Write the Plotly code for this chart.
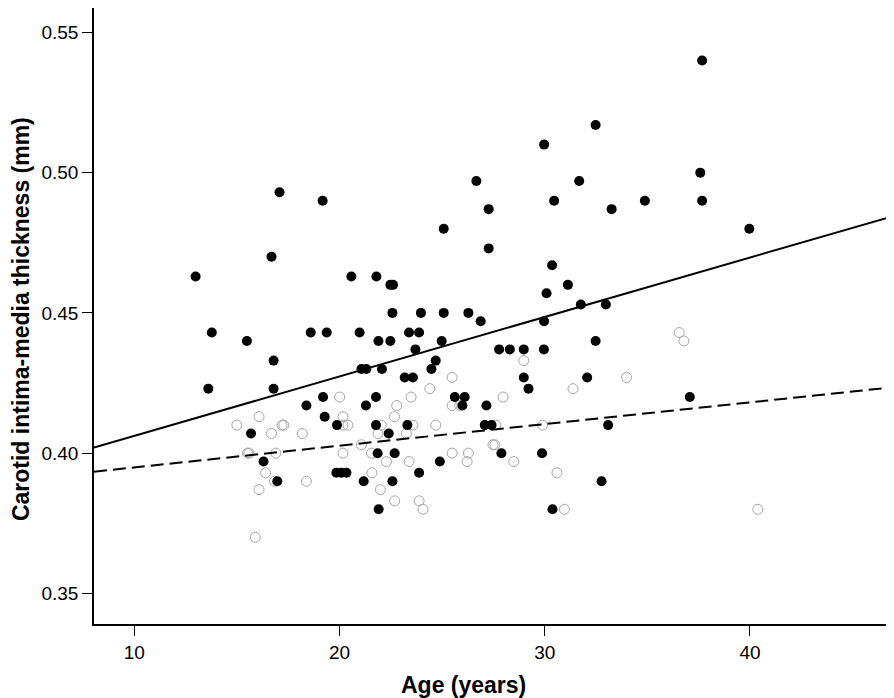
import plotly.graph_objects as go

# Filled circles (group 1)
age_filled = [17.08, 19.18, 16.69, 12.99, 20.58, 21.80, 13.78, 15.49, 18.60, 19.38,
              20.98, 16.79, 13.61, 16.79, 21.07, 21.31, 19.20, 18.39, 21.78, 21.29,
              19.28, 19.88, 21.78, 15.69, 21.86, 16.30, 19.85, 20.09, 20.34, 16.97,
              21.18, 21.91, 26.67, 27.27, 30.46, 25.08, 27.27, 30.36, 22.48, 22.61,
              31.13, 30.09, 22.58, 23.97, 25.08, 26.28, 26.88, 29.97, 21.90, 22.48,
              23.39, 23.88, 24.98, 23.70, 27.78, 28.30, 28.98, 29.96, 24.69, 24.48,
              22.07, 23.18, 23.58, 28.98, 29.21, 25.62, 26.10, 25.99, 27.16, 23.31,
              22.40, 27.08, 27.41, 22.69, 27.89, 29.87, 24.89, 23.88, 22.58, 30.38,
              37.67, 32.48, 31.68, 33.26, 34.88, 37.58, 37.67, 39.97, 29.97, 31.76,
              32.98, 32.48, 32.07, 37.07, 33.09, 32.77]
cimt_filled = [0.493, 0.490, 0.470, 0.463, 0.463, 0.463, 0.443, 0.440, 0.443, 0.443,
               0.443, 0.433, 0.423, 0.423, 0.430, 0.430, 0.420, 0.417, 0.420, 0.417,
               0.413, 0.410, 0.410, 0.407, 0.400, 0.397, 0.393, 0.393, 0.393, 0.390,
               0.390, 0.380, 0.497, 0.487, 0.490, 0.480, 0.473, 0.467, 0.460, 0.460,
               0.460, 0.457, 0.450, 0.450, 0.450, 0.450, 0.447, 0.447, 0.440, 0.440,
               0.443, 0.443, 0.440, 0.437, 0.437, 0.437, 0.437, 0.437, 0.433, 0.430,
               0.430, 0.427, 0.427, 0.427, 0.423, 0.420, 0.420, 0.417, 0.417, 0.410,
               0.407, 0.410, 0.410, 0.400, 0.400, 0.400, 0.397, 0.393, 0.390, 0.380,
               0.540, 0.517, 0.497, 0.487, 0.490, 0.500, 0.490, 0.480, 0.510, 0.453,
               0.453, 0.440, 0.427, 0.420, 0.410, 0.390]

# Open circles (group 2)
age_open = [20.01, 16.08, 15.00, 17.20, 17.29, 20.17, 20.17, 20.41, 16.69, 18.19,
            15.52, 15.59, 16.90, 20.17, 21.07, 21.56, 16.40, 16.84, 18.39, 21.58,
            16.08, 15.90, 28.98, 25.49, 24.40, 23.49, 22.79, 22.68, 25.49, 25.86,
            27.97, 22.04, 23.58, 24.69, 21.88, 23.26, 27.62, 29.89, 27.48, 27.57,
            25.49, 26.28, 22.29, 23.39, 26.22, 28.49, 30.60, 21.99, 22.69, 23.88,
            24.07, 30.96, 36.55, 36.78, 33.99, 31.38, 40.38]
cimt_open = [0.420, 0.413, 0.410, 0.410, 0.410, 0.413, 0.410, 0.410, 0.407, 0.407,
             0.400, 0.400, 0.400, 0.400, 0.403, 0.400, 0.393, 0.390, 0.390, 0.393,
             0.387, 0.370, 0.433, 0.427, 0.423, 0.420, 0.417, 0.413, 0.417, 0.417,
             0.420, 0.410, 0.410, 0.410, 0.407, 0.407, 0.410, 0.410, 0.403, 0.403,
             0.400, 0.400, 0.397, 0.397, 0.397, 0.397, 0.393, 0.387, 0.383, 0.383,
             0.380, 0.380, 0.443, 0.440, 0.427, 0.423, 0.380]

# Fit lines (end points at axis limits)
fit_age = [8.04, 46.97]
fit_solid = [0.4020, 0.4845]
fit_dashed = [0.3934, 0.4235]

x_ticks = [10, 20, 30, 40]
y_ticks = [0.35, 0.40, 0.45, 0.50, 0.55]
x_range = [8.04, 46.97]
y_range = [0.3391, 0.5587]

SANS = "Liberation Sans, Arial, Helvetica, sans-serif"

fig = go.Figure()
fig.add_trace(go.Scatter(x=age_open, y=cimt_open, mode="markers",
                         marker=dict(symbol="circle-open", size=10, color="#a6a6a6",
                                     line=dict(width=1, color="#a6a6a6")),
                         showlegend=False, hoverinfo="skip"))
fig.add_trace(go.Scatter(x=age_filled, y=cimt_filled, mode="markers",
                         marker=dict(symbol="circle", size=10, color="black",
                                     line=dict(width=0)),
                         showlegend=False, hoverinfo="skip"))
fig.add_trace(go.Scatter(x=fit_age, y=fit_solid, mode="lines",
                         line=dict(color="black", width=2),
                         showlegend=False, hoverinfo="skip"))
fig.add_trace(go.Scatter(x=fit_age, y=fit_dashed, mode="lines",
                         line=dict(color="black", width=2, dash="13px,6px"),
                         showlegend=False, hoverinfo="skip"))

axis_common = dict(showline=True, linecolor="black", linewidth=1.5, ticks="outside",
                   ticklen=10, tickwidth=1.2, tickcolor="black", showgrid=False,
                   zeroline=False, mirror=False)

# The page body has an 8px default margin, so the figure is 8px smaller.
fig.update_layout(
    width=886, height=690,
    margin=dict(l=86, r=1, t=0, b=74),
    paper_bgcolor="white", plot_bgcolor="white",
    font=dict(family=SANS, color="black"),
    xaxis=dict(range=x_range, tickvals=x_ticks,
               tickfont=dict(size=19, family=SANS), **axis_common),
    yaxis=dict(range=y_range, tickvals=y_ticks, tickformat=".2f",
               tickfont=dict(size=19, family=SANS), **axis_common),
    annotations=[
        dict(text="<b>Age (years)</b>", xref="paper", yref="paper", x=0.463, y=0,
             yshift=-61, xanchor="center", yanchor="middle", showarrow=False,
             font=dict(size=23, family=SANS)),
        dict(text="<b>Carotid intima-media thickness (mm)</b>", xref="paper", yref="paper",
             x=0, xshift=-73, y=0.495, xanchor="center", yanchor="middle", textangle=-90,
             showarrow=False, font=dict(size=23, family=SANS)),
    ],
)

fig.write_html("out.html")
